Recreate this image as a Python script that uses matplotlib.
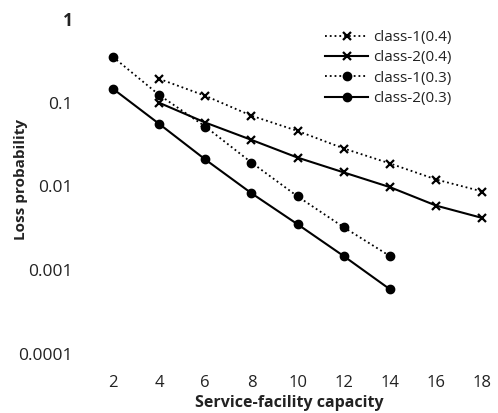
import matplotlib
matplotlib.use("Agg")
import matplotlib.pyplot as plt

plt.rcParams['font.family'] = ['Open Sans', 'DejaVu Sans']

capacity_04 = [4, 6, 8, 10, 12, 14, 16, 18]
capacity_03 = [2, 4, 6, 8, 10, 12, 14]

class1_04 = [0.193, 0.121, 0.070, 0.046, 0.0284, 0.0188, 0.0121, 0.0087]
class2_04 = [0.100, 0.058, 0.036, 0.0221, 0.0147, 0.0098, 0.0059, 0.0042]
class1_03 = [0.353, 0.124, 0.052, 0.0193, 0.0076, 0.00325, 0.00147]
class2_03 = [0.147, 0.056, 0.021, 0.0083, 0.00353, 0.00147, 0.00059]

x_ticks = [2, 4, 6, 8, 10, 12, 14, 16, 18]
y_ticks = [0.0001, 0.001, 0.01, 0.1, 1]
y_labels = ['0.0001', '0.001', '0.01', '0.1', '1']

fig = plt.figure(figsize=(4.98, 4.13), dpi=100)
ax = fig.add_axes([0.171, 0.143, 0.821, 0.811])

ax.plot(capacity_04, class1_04, linestyle=':', color='black', lw=1.3,
        marker='x', ms=6, mew=1.6, label='class-1(0.4)')
ax.plot(capacity_04, class2_04, linestyle='-', color='black', lw=1.5,
        marker='x', ms=6, mew=1.6, label='class-2(0.4)')
ax.plot(capacity_03, class1_03, linestyle=':', color='black', lw=1.3,
        marker='o', ms=6, label='class-1(0.3)')
ax.plot(capacity_03, class2_03, linestyle='-', color='black', lw=1.5,
        marker='o', ms=6, label='class-2(0.3)')

ax.set_yscale('log')
ax.set_ylim(0.0001, 1)
ax.set_xlim(0.8, 18.5)
ax.set_xticks(x_ticks)
ax.set_xticklabels([str(v) for v in x_ticks])
ax.set_yticks(y_ticks)
ax.set_yticklabels(y_labels)
ax.minorticks_off()
ax.get_yticklabels()[-1].set_fontweight('bold')

for s in ax.spines.values():
    s.set_visible(False)
ax.tick_params(axis='y', length=0, pad=9, labelsize=12.5, labelcolor='#222222')
ax.tick_params(axis='x', length=0, pad=15, labelsize=12, labelcolor='#222222')

ax.set_xlabel('Service-facility capacity', fontsize=11.5, fontweight='bold',
              color='#222222', labelpad=3)
ax.set_ylabel('Loss probability', fontsize=11, fontweight='bold',
              color='#222222')
ax.yaxis.set_label_coords(-0.14, 0.52)

leg = ax.legend(loc='upper right', bbox_to_anchor=(0.91, 0.985), frameon=False,
                fontsize=11, handlelength=2.8, handletextpad=0.3,
                labelspacing=0.35, borderaxespad=0.0)
for t in leg.get_texts():
    t.set_color('#222222')

fig.savefig('out.png', dpi=100)
